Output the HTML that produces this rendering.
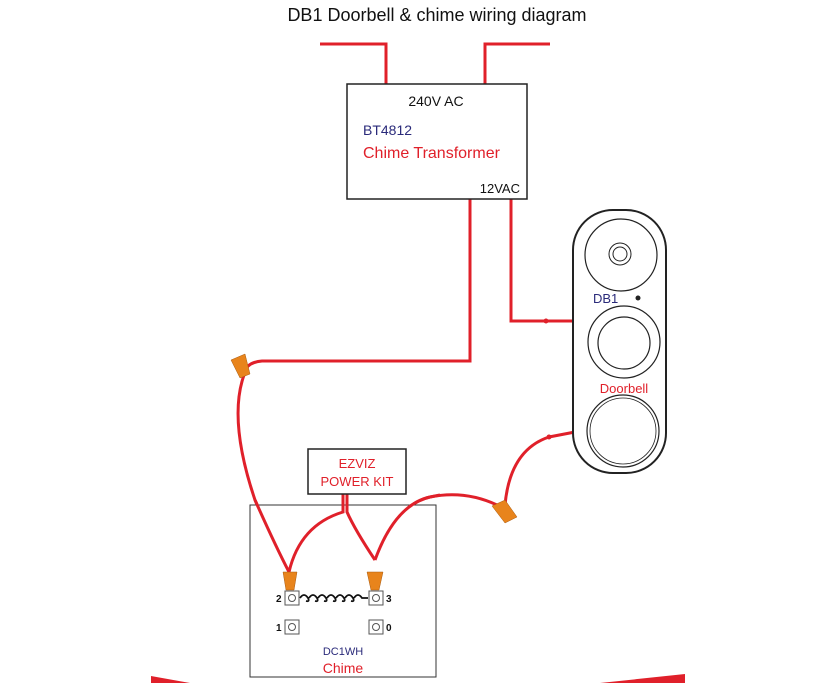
<!DOCTYPE html>
<html><head><style>
html,body{margin:0;padding:0;background:#fff;}
svg{display:block;font-family:"Liberation Sans",sans-serif;}
</style></head><body>
<svg width="835" height="683" viewBox="0 0 835 683" xmlns="http://www.w3.org/2000/svg">
<rect width="835" height="683" fill="#fff"/>
<text x="437" y="21" font-size="18" text-anchor="middle" fill="#111">DB1 Doorbell &amp; chime wiring diagram</text>
<g fill="none" stroke="#e0202a" stroke-width="3">
<path d="M320 44 H386 V84"/>
<path d="M485 84 V44 H550"/>
<path d="M470 199 V361 H262 Q248 362 244 372"/>
<path d="M511 199 V321 H575"/>
<path d="M575 432 L549 437 Q510 450 505 505"/>
<path d="M244 375 Q228 420 255 500 Q275 545 289 572"/>
<path d="M375 560 Q395 505 430 497 Q465 490 497 505"/>
</g>
<circle cx="546" cy="321" r="2.5" fill="#e0202a"/>
<circle cx="549" cy="437" r="2.5" fill="#e0202a"/>
<rect x="347" y="84" width="180" height="115" fill="#fff" stroke="#222" stroke-width="1.5"/>
<text x="436" y="106" font-size="14" text-anchor="middle" fill="#111">240V AC</text>
<text x="363" y="135" font-size="14" fill="#2a2a7a">BT4812</text>
<text x="363" y="158" font-size="16" fill="#e0202a">Chime Transformer</text>
<text x="520" y="193" font-size="13" text-anchor="end" fill="#111">12VAC</text>
<rect x="573" y="210" width="93" height="263" rx="40" fill="#fff" stroke="#222" stroke-width="2"/>
<circle cx="621" cy="255" r="36" fill="none" stroke="#222" stroke-width="1.2"/>
<circle cx="620" cy="254" r="11" fill="none" stroke="#222"/>
<circle cx="620" cy="254" r="7" fill="none" stroke="#222"/>
<text x="593" y="303" font-size="13" fill="#2a2a7a">DB1</text>
<circle cx="638" cy="298" r="2.5" fill="#222"/>
<circle cx="624" cy="342" r="36" fill="none" stroke="#222" stroke-width="1.2"/>
<circle cx="624" cy="343" r="26" fill="none" stroke="#222" stroke-width="1.2"/>
<text x="624" y="393" font-size="13" text-anchor="middle" fill="#e0202a">Doorbell</text>
<circle cx="623" cy="431" r="36" fill="none" stroke="#222" stroke-width="1.2"/>
<circle cx="623" cy="431" r="33" fill="none" stroke="#222" stroke-width="0.8"/>
<rect x="250" y="505" width="186" height="172" fill="#fff" stroke="#333" stroke-width="1"/>
<g fill="none" stroke="#e0202a" stroke-width="3">
<path d="M255 500 Q275 545 289 572"/>
<path d="M343 494 V512 Q300 525 289 572"/>
<path d="M347 494 V512 Q355 530 375 560"/>
<path d="M375 560 Q395 505 430 497 L440 495"/>
</g>
<rect x="308" y="449" width="98" height="45" fill="#fff" stroke="#222" stroke-width="1.5"/>
<text x="357" y="468" font-size="13" text-anchor="middle" fill="#e0202a">EZVIZ</text>
<text x="357" y="486" font-size="13" text-anchor="middle" fill="#e0202a">POWER KIT</text>
<g fill="#e8841c" stroke="#a85a10" stroke-width="0.5">
<path d="M231 360 L245 354 L250 374 L240 378 Z"/>
<path d="M492 506 L505 500 L517 517 L505 523 Z"/>
<path d="M283 572 L297 572 L294 590 L286 590 Z"/>
<path d="M367 572 L383 572 L379 590 L371 590 Z"/>
</g>
<g fill="#fff" stroke="#555" stroke-width="1">
<rect x="285" y="591" width="14" height="14"/>
<rect x="369" y="591" width="14" height="14"/>
<rect x="285" y="620" width="14" height="14"/>
<rect x="369" y="620" width="14" height="14"/>
<circle cx="292" cy="598" r="3.5"/>
<circle cx="376" cy="598" r="3.5"/>
<circle cx="292" cy="627" r="3.5"/>
<circle cx="376" cy="627" r="3.5"/>
</g>
<path d="M300 598 q4 -6 8 0 q2 4 -2 3 M309 598 q4 -6 8 0 q2 4 -2 3 M318 598 q4 -6 8 0 q2 4 -2 3 M327 598 q4 -6 8 0 q2 4 -2 3 M336 598 q4 -6 8 0 q2 4 -2 3 M345 598 q4 -6 8 0 q2 4 -2 3 M354 598 q4 -6 8 0 L368 598" fill="none" stroke="#111" stroke-width="1.8"/>
<g font-size="10" font-weight="bold" fill="#111">
<text x="276" y="602">2</text><text x="386" y="602">3</text>
<text x="276" y="631">1</text><text x="386" y="631">0</text>
</g>
<text x="343" y="655" font-size="11" text-anchor="middle" fill="#2a2a7a">DC1WH</text>
<text x="343" y="673" font-size="14" text-anchor="middle" fill="#e0202a">Chime</text>
<path d="M151 676 L190 683 L151 683 Z" fill="#e0202a"/>
<path d="M600 683 L685 674 L685 683 Z" fill="#e0202a"/>
</svg>
</body></html>
